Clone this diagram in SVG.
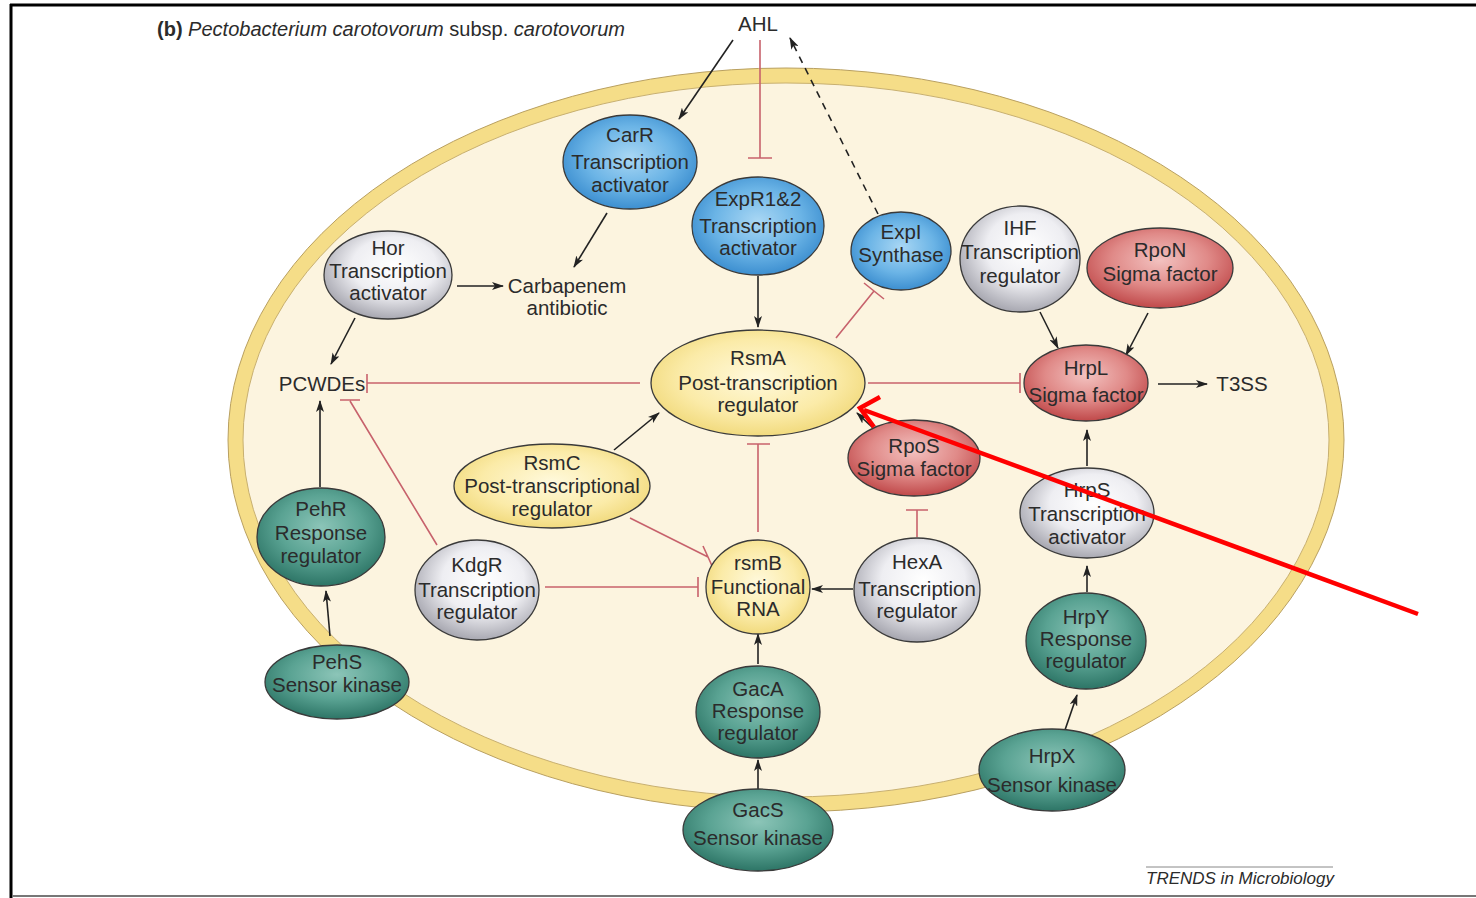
<svg xmlns="http://www.w3.org/2000/svg" width="1476" height="898" viewBox="0 0 1476 898">
<style>
text{font-family:"Liberation Sans",Arial,sans-serif;fill:#2b2b2b;}
.n text{font-size:20.5px;text-anchor:middle;}
.lbl{font-size:20.5px;text-anchor:middle;}
.node{stroke:#3a3a3a;stroke-width:1.3;}
.act{stroke:#222;stroke-width:1.6;fill:none;marker-end:url(#ah);}
.inh{stroke:#c7626c;stroke-width:1.6;fill:none;}
.dash{stroke:#222;stroke-width:1.6;fill:none;stroke-dasharray:7 6;marker-end:url(#ah);}
</style>
<defs>
<marker id="ah" viewBox="0 0 12 8" refX="11" refY="4" markerWidth="12" markerHeight="8" markerUnits="userSpaceOnUse" orient="auto">
<path d="M0,0 L12,4 L0,8 L3,4 Z" fill="#222"/>
</marker>
<radialGradient id="gBlue" cx="50%" cy="45%" r="55%"><stop offset="0" stop-color="#a9d7f4"/><stop offset="0.6" stop-color="#6bb4e6"/><stop offset="1" stop-color="#3d8fd0"/></radialGradient>
<radialGradient id="gGray" cx="55%" cy="40%" r="60%"><stop offset="0" stop-color="#ffffff"/><stop offset="0.55" stop-color="#eeeef2"/><stop offset="1" stop-color="#a9a9b2"/></radialGradient>
<radialGradient id="gRed" cx="50%" cy="40%" r="60%"><stop offset="0" stop-color="#f3c2c0"/><stop offset="0.55" stop-color="#e08a88"/><stop offset="1" stop-color="#c0494a"/></radialGradient>
<radialGradient id="gYel" cx="50%" cy="45%" r="60%"><stop offset="0" stop-color="#fff9dc"/><stop offset="0.6" stop-color="#fbeba8"/><stop offset="1" stop-color="#efd673"/></radialGradient>
<radialGradient id="gTeal" cx="50%" cy="40%" r="60%"><stop offset="0" stop-color="#8cc5b8"/><stop offset="0.55" stop-color="#5aa393"/><stop offset="1" stop-color="#2d7566"/></radialGradient>
</defs>
<rect width="1476" height="898" fill="#ffffff"/>
<g id="frame">
<line x1="10" y1="5" x2="1476" y2="5" stroke="#000" stroke-width="3"/>
<line x1="11" y1="4" x2="11" y2="898" stroke="#000" stroke-width="3"/>
<line x1="12" y1="896" x2="1476" y2="896" stroke="#777" stroke-width="2"/>
</g>
<text x="157" y="36" font-size="20"><tspan font-weight="bold">(b)</tspan> <tspan font-style="italic">Pectobacterium carotovorum</tspan> subsp. <tspan font-style="italic">carotovorum</tspan></text>
<g id="cell">
<ellipse cx="786" cy="440" rx="558" ry="372" fill="#f5dd88" stroke="#b9a060" stroke-width="1"/>
<ellipse cx="786" cy="440" rx="543" ry="357" fill="#fcf4df" stroke="#c8b070" stroke-width="1"/>
</g>
<g id="connectors">
<line class="act" x1="733" y1="40" x2="679" y2="119"/>
<line class="act" x1="607" y1="213" x2="574" y2="267"/>
<line class="act" x1="457" y1="286" x2="503" y2="286"/>
<line class="act" x1="355" y1="318" x2="331" y2="364"/>
<line class="act" x1="758" y1="276" x2="758" y2="327"/>
<line class="act" x1="320" y1="487" x2="320" y2="401"/>
<line class="act" x1="330" y1="636" x2="326" y2="591"/>
<line class="act" x1="614" y1="450" x2="659" y2="413"/>
<line class="act" x1="873" y1="428" x2="857" y2="413"/>
<line class="act" x1="853" y1="589" x2="812" y2="589"/>
<line class="act" x1="758" y1="664" x2="758" y2="634"/>
<line class="act" x1="758" y1="789" x2="758" y2="760"/>
<line class="act" x1="1040" y1="312" x2="1058" y2="348"/>
<line class="act" x1="1148" y1="313" x2="1126" y2="355"/>
<line class="act" x1="1158" y1="384" x2="1207" y2="384"/>
<line class="act" x1="1087" y1="466" x2="1087" y2="430"/>
<line class="act" x1="1087" y1="592" x2="1087" y2="566"/>
<line class="act" x1="1065" y1="730" x2="1077" y2="695"/>
<line class="dash" x1="878" y1="214" x2="790" y2="38"/>
<path class="inh" d="M760,40 V158 M748,158 H772"/>
<path class="inh" d="M836,338 L874,291 M864,283 L884,299"/>
<path class="inh" d="M640,383 H367 M367,374 V393"/>
<path class="inh" d="M868,383 H1020 M1020,373 V393"/>
<path class="inh" d="M758,532 V444 M747,444 H770"/>
<path class="inh" d="M630,518 L708,557 M703,546 L713,568"/>
<path class="inh" d="M545,587 H698 M698,577 V597"/>
<path class="inh" d="M437,545 L350,401 M340,400 H360"/>
<path class="inh" d="M917,537 V510 M906,510 H928"/>
</g>
<g id="n-CarR" class="n"><ellipse class="node" cx="630" cy="162" rx="67" ry="47" fill="url(#gBlue)"/><text x="630" y="142">CarR</text><text x="630" y="169">Transcription</text><text x="630" y="192">activator</text></g>
<g id="n-ExpR" class="n"><ellipse class="node" cx="758" cy="226" rx="66" ry="49" fill="url(#gBlue)"/><text x="758" y="206">ExpR1&amp;2</text><text x="758" y="233">Transcription</text><text x="758" y="255">activator</text></g>
<g id="n-ExpI" class="n"><ellipse class="node" cx="901" cy="251" rx="50" ry="39" fill="url(#gBlue)"/><text x="901" y="239">ExpI</text><text x="901" y="262">Synthase</text></g>
<g id="n-Hor" class="n"><ellipse class="node" cx="388" cy="275" rx="64" ry="44" fill="url(#gGray)"/><text x="388" y="255">Hor</text><text x="388" y="278">Transcription</text><text x="388" y="300">activator</text></g>
<g id="n-IHF" class="n"><ellipse class="node" cx="1020" cy="259" rx="60" ry="53" fill="url(#gGray)"/><text x="1020" y="235">IHF</text><text x="1020" y="259">Transcription</text><text x="1020" y="283">regulator</text></g>
<g id="n-RpoN" class="n"><ellipse class="node" cx="1160" cy="268" rx="73" ry="40" fill="url(#gRed)"/><text x="1160" y="257">RpoN</text><text x="1160" y="281">Sigma factor</text></g>
<g id="n-HrpL" class="n"><ellipse class="node" cx="1086" cy="383" rx="62" ry="38" fill="url(#gRed)"/><text x="1086" y="375">HrpL</text><text x="1086" y="402">Sigma factor</text></g>
<g id="n-RsmA" class="n"><ellipse class="node" cx="758" cy="383" rx="107" ry="53" fill="url(#gYel)"/><text x="758" y="365">RsmA</text><text x="758" y="390">Post-transcription</text><text x="758" y="412">regulator</text></g>
<g id="n-RpoS" class="n"><ellipse class="node" cx="914" cy="458" rx="66" ry="38" fill="url(#gRed)"/><text x="914" y="453">RpoS</text><text x="914" y="476">Sigma factor</text></g>
<g id="n-RsmC" class="n"><ellipse class="node" cx="552" cy="486" rx="98" ry="42" fill="url(#gYel)"/><text x="552" y="470">RsmC</text><text x="552" y="493">Post-transcriptional</text><text x="552" y="516">regulator</text></g>
<g id="n-HrpS" class="n"><ellipse class="node" cx="1087" cy="513" rx="67" ry="45" fill="url(#gGray)"/><text x="1087" y="497">HrpS</text><text x="1087" y="521">Transcription</text><text x="1087" y="544">activator</text></g>
<g id="n-PehR" class="n"><ellipse class="node" cx="321" cy="537" rx="64" ry="49" fill="url(#gTeal)"/><text x="321" y="516">PehR</text><text x="321" y="540">Response</text><text x="321" y="563">regulator</text></g>
<g id="n-KdgR" class="n"><ellipse class="node" cx="477" cy="590" rx="62" ry="50" fill="url(#gGray)"/><text x="477" y="572">KdgR</text><text x="477" y="597">Transcription</text><text x="477" y="619">regulator</text></g>
<g id="n-rsmB" class="n"><ellipse class="node" cx="758" cy="587" rx="52" ry="47" fill="url(#gYel)"/><text x="758" y="570">rsmB</text><text x="758" y="594">Functional</text><text x="758" y="616">RNA</text></g>
<g id="n-HexA" class="n"><ellipse class="node" cx="917" cy="590" rx="63" ry="52" fill="url(#gGray)"/><text x="917" y="569">HexA</text><text x="917" y="596">Transcription</text><text x="917" y="618">regulator</text></g>
<g id="n-HrpY" class="n"><ellipse class="node" cx="1086" cy="641" rx="60" ry="48" fill="url(#gTeal)"/><text x="1086" y="624">HrpY</text><text x="1086" y="646">Response</text><text x="1086" y="668">regulator</text></g>
<g id="n-PehS" class="n"><ellipse class="node" cx="337" cy="682" rx="72" ry="37" fill="url(#gTeal)"/><text x="337" y="669">PehS</text><text x="337" y="692">Sensor kinase</text></g>
<g id="n-GacA" class="n"><ellipse class="node" cx="758" cy="712" rx="62" ry="46" fill="url(#gTeal)"/><text x="758" y="696">GacA</text><text x="758" y="718">Response</text><text x="758" y="740">regulator</text></g>
<g id="n-GacS" class="n"><ellipse class="node" cx="758" cy="830" rx="75" ry="41" fill="url(#gTeal)"/><text x="758" y="817">GacS</text><text x="758" y="845">Sensor kinase</text></g>
<g id="n-HrpX" class="n"><ellipse class="node" cx="1052" cy="770" rx="73" ry="41" fill="url(#gTeal)"/><text x="1052" y="763">HrpX</text><text x="1052" y="792">Sensor kinase</text></g>
<g id="labels">
<text class="lbl" x="758" y="31">AHL</text>
<text class="lbl" x="567" y="293">Carbapenem</text>
<text class="lbl" x="567" y="315">antibiotic</text>
<text class="lbl" x="322" y="391">PCWDEs</text>
<text class="lbl" x="1242" y="391">T3SS</text>
</g>
<g id="credit">
<line x1="1146" y1="867" x2="1333" y2="867" stroke="#888" stroke-width="1"/>
<text x="1146" y="884" font-size="17" font-style="italic">TRENDS in Microbiology</text>
</g>
<g id="annotation-arrow">
<line x1="1418" y1="614" x2="864" y2="410" stroke="#ff0000" stroke-width="4.5"/>
<polyline points="880,397 860,408 874,427" fill="none" stroke="#ff0000" stroke-width="4.5" stroke-linejoin="miter"/>
</g>
</svg>
